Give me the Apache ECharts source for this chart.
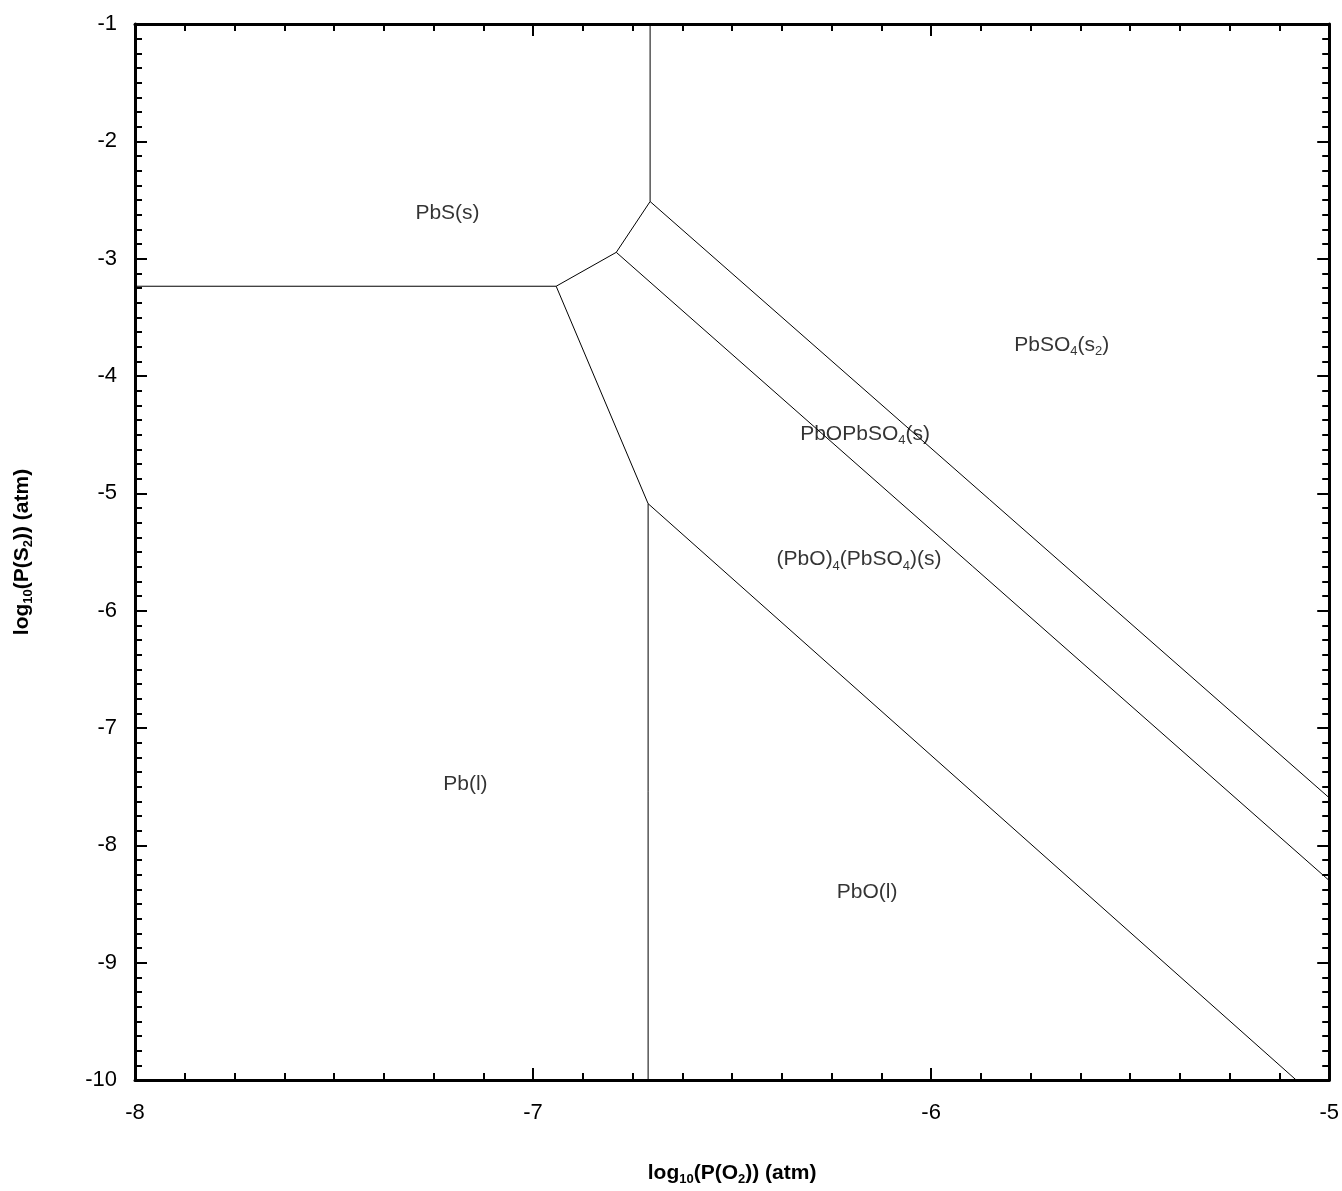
<!DOCTYPE html>
<html>
<head>
<meta charset="utf-8">
<script src="https://cdn.jsdelivr.net/npm/echarts@6/dist/echarts.min.js"></script>
<style>
  html, body { margin: 0; padding: 0; background: #fff; }
  #chart { width: 1342px; height: 1191px; }
</style>
</head>
<body>
<div id="chart"></div>
<script>
// Predominance diagram of the Pb–S–O system: log10 P(O2) vs log10 P(S2), in atm.

// Axis ranges
const xRange = [-8, -5];
const yRange = [-10, -1];

// Phase boundaries, each as [log10 P(O2), log10 P(S2)] end points
const pbsPb          = [[-8.000, -3.235], [-6.942, -3.235]];
const pbsPbo4Pbso4   = [[-6.942, -3.235], [-6.791, -2.946]];
const pbsPboPbso4    = [[-6.791, -2.946], [-6.706, -2.513]];
const pbsPbso4       = [[-6.706, -2.513], [-6.706, -1.000]];
const pbso4PboPbso4  = [[-6.706, -2.513], [-5.000, -7.595]];
const pboPbso4Pbo4   = [[-6.791, -2.946], [-5.000, -8.300]];
const pbPbo4Pbso4    = [[-6.942, -3.235], [-6.711, -5.088]];
const pbPbo          = [[-6.711, -5.088], [-6.711, -10.000]];
const pbo4Pbso4Pbo   = [[-6.711, -5.088], [-5.083, -10.000]];

const boundaries = [
  pbsPb, pbsPbo4Pbso4, pbsPboPbso4, pbsPbso4,
  pbso4PboPbso4, pboPbso4Pbo4, pbPbo4Pbso4, pbPbo, pbo4Pbso4Pbo
];

// Phase field names ({s|..} marks a subscript) and where they sit
const phaseNames = [
  'PbS(s)',
  'PbSO{s|4}(s{s|2})',
  'PbOPbSO{s|4}(s)',
  '(PbO){s|4}(PbSO{s|4})(s)',
  'Pb(l)',
  'PbO(l)'
];
const phaseAt = [
  [-7.215, -2.589],
  [-5.672, -3.711],
  [-6.166, -4.467],
  [-6.181, -5.538],
  [-7.170, -7.450],
  [-6.161, -8.377]
];

const FONT = '"Liberation Sans", Arial, sans-serif';
const INK = '#000';

const tickStyle = {
  axisTick: { show: true, inside: true, length: 12, lineStyle: { color: '#000', width: 2 } },
  minorTick: { show: true, splitNumber: 8, length: 7, lineStyle: { color: '#000', width: 2 } },
  axisLine: { show: true, onZero: false, lineStyle: { color: '#000', width: 3 } },
  splitLine: { show: false },
  minorSplitLine: { show: false }
};

function axis(extra) {
  return Object.assign({ type: 'value', interval: 1 }, tickStyle, extra);
}

const nameStyle = {
  fontSize: 21, fontWeight: 'bold', fontFamily: FONT, color: INK, lineHeight: 26,
  rich: { sb: { fontSize: 13, fontWeight: 'bold', fontFamily: FONT, color: INK, verticalAlign: 'bottom', lineHeight: 16 } }
};

const series = boundaries.map(seg => ({
  type: 'line',
  data: seg,
  symbol: 'none',
  silent: true,
  lineStyle: { color: '#000', width: 1 },
  z: 3
}));

series.push({
  type: 'scatter',
  symbolSize: 0,
  silent: true,
  data: phaseAt.map((p, i) => ({
    value: p,
    label: { formatter: phaseNames[i] }
  })),
  label: {
    show: true,
    position: 'inside',
    offset: [0, 3],
    fontSize: 21,
    fontFamily: FONT,
    color: INK,
    lineHeight: 26,
    rich: {
      s: { fontSize: 13, fontFamily: FONT, color: INK, verticalAlign: 'bottom', lineHeight: 16 }
    }
  },
  z: 4
});

const chart = echarts.init(document.getElementById('chart'), null, { renderer: 'canvas' });
chart.setOption({
  animation: false,
  backgroundColor: '#fff',
  grid: { left: 135, top: 24, right: 11, bottom: 108, containLabel: false },
  xAxis: [
    axis({
      position: 'bottom', min: xRange[0], max: xRange[1],
      axisLabel: { fontSize: 22, fontFamily: FONT, color: INK, margin: 22 },
      name: 'log{sb|10}(P(O{sb|2})) (atm)',
      nameLocation: 'middle',
      nameGap: 80,
      nameTextStyle: nameStyle
    }),
    axis({ position: 'top', min: xRange[0], max: xRange[1], axisLabel: { show: false } })
  ],
  yAxis: [
    axis({
      position: 'left', min: yRange[0], max: yRange[1],
      axisLabel: { fontSize: 22, fontFamily: FONT, color: INK, margin: 18 },
      name: 'log{sb|10}(P(S{sb|2})) (atm)',
      nameLocation: 'middle',
      nameGap: 100,
      nameTextStyle: nameStyle
    }),
    axis({ position: 'right', min: yRange[0], max: yRange[1], axisLabel: { show: false } })
  ],
  series: series
});
</script>
</body>
</html>
